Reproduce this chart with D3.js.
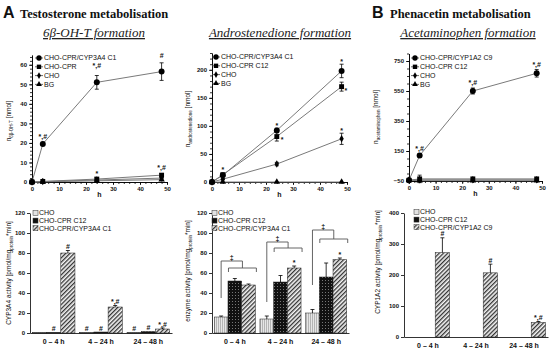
<!DOCTYPE html>
<html>
<head>
<meta charset="utf-8">
<script src="https://cdnjs.cloudflare.com/ajax/libs/d3/7.8.5/d3.min.js"></script>
<style>
body { margin: 0; background: #fff; }
svg text { font-family: "Liberation Sans", Arial, sans-serif; fill: #111; }
.axis text { font-size: 6px; font-weight: bold; }
.axis path, .axis line { stroke: #000; stroke-width: 0.8; }
.legend { font-size: 7px; }
.note { font-size: 7px; font-weight: bold; text-anchor: middle; }
.ytitle { font-size: 6.5px; }
.cat text { font-size: 7px; font-weight: bold; }
.title { font-family: "Liberation Serif", "Times New Roman", serif; font-weight: bold; font-size: 12.5px; }
.letter { font-size: 16px; font-weight: bold; }
.sub { font-family: "Liberation Serif", "Times New Roman", serif; font-style: italic; font-size: 13px; text-decoration: underline; text-anchor: middle; fill: #222; }
</style>
</head>
<body>
<svg id="fig" width="550" height="353"></svg>
<script>
// sampling times (h) and axis ticks of the time course plots
var hours = [0, 4, 24, 48];
var hourTicks = [0, 10, 20, 30, 40, 50];

// 6beta-OH-T formation [nmol]
var ohtNames = ["CHO-CPR/CYP3A4 C1", "CHO-CPR", "CHO", "BG"];
var ohtCyp = [0, 19.5, 51, 56.5], ohtCypErr = [0, 0.8, 3.5, 4.5];
var ohtCpr = [0, 0.3, 1.5, 3.5], ohtCprErr = [0, 0.2, 0.8, 0.8];
var ohtCho = [0, 0.2, 1.0, 2.0], ohtChoErr = [0, 0.1, 0.4, 0.5];
var ohtBg = [0, 0.1, 0.6, 1.2];
var ohtTicks = [0, 10, 20, 30, 40, 50, 60];
var ohtNotes = [[4, 22, "*,#"], [24, 58.5, "*,#"], [48, 63.5, "#"], [24, 3, "*"], [48, 6, "*,#"]];

// androstenedione formation [nmol]
var andNames = ["CHO-CPR/CYP3A4 C1", "CHO-CPR C12", "CHO", "BG"];
var andCyp = [0, 12, 92, 198], andCypErr = [0, 2, 4, 12];
var andCpr = [0, 13, 81, 170], andCprErr = [0, 2, 8, 8];
var andCho = [0, 5, 32, 77], andChoErr = [0, 1, 3, 10];
var andBg = [0, 0, 0, 0];
var andTicks = [0, 50, 100, 150, 200];
var andNotes = [[4, 18, "*"], [24, 96, "*"], [26, 71, "*"], [48, 210, "*"], [49.6, 159, "*"], [48, 87, "*"], [24, 27, "*"]];

// acetaminophen formation [nmol]
var apNames = ["CHO-CPR/CYP1A2 C9", "CHO-CPR C12", "CHO", "BG"];
var apCyp = [-45, 120, 550, 668], apCypErr = [0, 10, 20, 25];
var apCpr = [-45, -36, -36, -36], apCprErr = [0, 25, 0, 0];
var apCho = [-45, -42, -42, -42];
var apBg = [-45, -48, -48, -48];
var apTicks = [-50, 150, 350, 550, 750];
var apNotes = [[4, 152, "*,#"], [24, 593, "*,#"], [48, 713, "*,#"]];

// activities per incubation period
var periods = ["0 – 4 h", "4 – 24 h", "24 – 48 h"];
var barTicks120 = [0, 20, 40, 60, 80, 100, 120];
var barTicks400 = [0, 100, 200, 300, 400];

// CYP3A4 activity [pmol/mg protein*min]
var cyp3a4Names = ["CHO", "CHO-CPR C12", "CHO-CPR/CYP3A4 C1"];
var cyp3a4Cho = [0.5, 0.5, 0.5];
var cyp3a4Cpr = [0.6, 1.0, 1.5];
var cyp3a4Cyp = [80, 26, 4], cyp3a4CypErr = [2.5, 1.5, 1];
var cyp3a4Notes = [["", "#", "#"], ["#", "#", "#"], ["#", "*,#", "*,#"]];

// enzyme activity (androstenedione) [pmol/mg protein*min]
var enzNames = ["CHO", "CHO-CPR C12", "CHO-CPR/CYP3A4 C1"];
var enzCho = [16, 14, 20], enzChoErr = [1, 3, 3.5];
var enzCpr = [52, 51, 56], enzCprErr = [2.5, 6.5, 14];
var enzCyp = [48, 65, 73.5], enzCypErr = [1, 2, 1.5];
var enzNotes = [["", "", ""], ["", "", ""], ["", "*", "*"]];
var bracketLow = [65, 85, 94], bracketHigh = [72, 91, 103], bracketLeg = [35, 31, 48];

// CYP1A2 activity [pmol/mg protein*min]
var cyp1a2Names = ["CHO", "CHO-CPR C12", "CHO-CPR/CYP1A2 C9"];
var cyp1a2Cho = [0, 0, 0];
var cyp1a2Cpr = [0, 0, 0];
var cyp1a2Cyp = [272, 207, 47], cyp1a2CypErr = [48, 28, 3];
var cyp1a2Notes = [["", "", ""], ["", "", ""], ["#", "#", "*,#"]];

var svg = d3.select("#fig");

// bar fill patterns
var defs = svg.append("defs");
var pCho = defs.append("pattern").attr("id", "pCho").attr("patternUnits", "userSpaceOnUse").attr("width", 2).attr("height", 4);
pCho.append("rect").attr("width", 2).attr("height", 4).attr("fill", "#e6e6e6");
pCho.append("rect").attr("width", 0.8).attr("height", 4).attr("fill", "#a8a8a8");
var pCpr = defs.append("pattern").attr("id", "pCpr").attr("patternUnits", "userSpaceOnUse").attr("width", 3).attr("height", 3);
pCpr.append("rect").attr("width", 3).attr("height", 3).attr("fill", "#111");
pCpr.append("rect").attr("x", 1).attr("y", 1).attr("width", 1).attr("height", 1).attr("fill", "#777");
var pCyp = defs.append("pattern").attr("id", "pCyp").attr("patternUnits", "userSpaceOnUse").attr("width", 3).attr("height", 3).attr("patternTransform", "rotate(45)");
pCyp.append("rect").attr("width", 3).attr("height", 3).attr("fill", "#f4f4f4");
pCyp.append("rect").attr("width", 1.3).attr("height", 3).attr("fill", "#333");

var barFills = ["url(#pCho)", "url(#pCpr)", "url(#pCyp)"];
var swatchFills = ["#e2e2e2", "#111", "url(#pCyp)"];
var symbols = [d3.symbolCircle, d3.symbolSquare, d3.symbolDiamond, d3.symbolTriangle];
var symSize = [28, 24, 16, 18];

function yTitle(x, y, parts) {
  var t = svg.append("text").attr("class", "ytitle").attr("text-anchor", "middle")
      .attr("transform", "translate(" + x + "," + y + ") rotate(-90)");
  parts.forEach(function(p) {
    var s = t.append("tspan").text(p[0]);
    if (p[1]) s.attr("font-size", "4.5px").attr("dy", 1.5);
    else if (t.selectAll("tspan").size() > 1) s.attr("dy", -1.5);
  });
}

function lineChart(o) {
  var x = d3.scaleLinear().domain([0, 50]).range(o.xRange);
  var y = d3.scaleLinear().domain(o.yDomain).range(o.yRange);
  var g = svg.append("g");
  var base = o.yRange[0];

  g.append("g").attr("class", "axis").attr("transform", "translate(0," + base + ")")
    .call(d3.axisBottom(x).tickValues(d3.range(0, 51, 2)).tickSize(2).tickSizeOuter(0).tickFormat(""));
  g.append("g").attr("class", "axis").attr("transform", "translate(0," + base + ")")
    .call(d3.axisBottom(x).tickValues(hourTicks).tickSize(3).tickSizeOuter(0).tickPadding(2));
  g.append("g").attr("class", "axis").attr("transform", "translate(" + o.xRange[0] + ",0)")
    .call(d3.axisLeft(y).ticks(o.minorCount).tickSize(2).tickSizeOuter(0).tickFormat(""));
  g.append("g").attr("class", "axis").attr("transform", "translate(" + o.xRange[0] + ",0)")
    .call(d3.axisLeft(y).tickValues(o.ticks).tickSize(3).tickSizeOuter(0).tickPadding(2));

  g.append("text").attr("x", x(25)).attr("y", base + 15).attr("text-anchor", "middle")
    .attr("font-size", "7px").attr("font-weight", "bold").text("h");

  var line = d3.line().x(function(d) { return x(d[0]); }).y(function(d) { return y(d[1]); });
  var all = o.series.map(function(s) {
    return hours.map(function(h, i) { return [h, s.values[i], s.errors ? s.errors[i] : 0]; });
  });

  all.forEach(function(pts) {
    g.append("path").datum(pts).attr("d", line).attr("fill", "none")
      .attr("stroke", "#7a7a7a").attr("stroke-width", 1);
  });
  all.forEach(function(pts) {
    pts.forEach(function(d) {
      if (!d[2]) return;
      var cx = x(d[0]);
      g.append("line").attr("x1", cx).attr("x2", cx).attr("y1", y(d[1] - d[2])).attr("y2", y(d[1] + d[2])).attr("stroke", "#000").attr("stroke-width", 0.8);
      [d[1] - d[2], d[1] + d[2]].forEach(function(v) {
        g.append("line").attr("x1", cx - 2).attr("x2", cx + 2).attr("y1", y(v)).attr("y2", y(v)).attr("stroke", "#000").attr("stroke-width", 0.8);
      });
    });
  });
  all.forEach(function(pts, si) {
    g.selectAll(null).data(pts).enter().append("path")
      .attr("d", d3.symbol().type(symbols[si]).size(symSize[si]))
      .attr("transform", function(d) { return "translate(" + x(d[0]) + "," + y(d[1]) + ")"; })
      .attr("fill", "#000");
  });

  o.notes.forEach(function(n) {
    g.append("text").attr("class", "note").attr("x", x(n[0])).attr("y", y(n[1])).text(n[2]);
  });

  o.series.forEach(function(s, i) {
    var ly = o.legend[1] + i * 8.8;
    g.append("line").attr("x1", o.legend[0] - 4).attr("x2", o.legend[0] + 4).attr("y1", ly).attr("y2", ly)
      .attr("stroke", "#444").attr("stroke-width", 0.8);
    g.append("path").attr("d", d3.symbol().type(symbols[i]).size(symSize[i] * 0.8)())
      .attr("transform", "translate(" + o.legend[0] + "," + ly + ")").attr("fill", "#000");
    g.append("text").attr("class", "legend").attr("x", o.legend[0] + 5).attr("y", ly).attr("dy", "0.35em").text(s.name);
  });
}

function barChart(o) {
  var x0 = d3.scaleBand().domain(periods).range(o.xRange).paddingInner(0.1).paddingOuter(0.05);
  var x1 = d3.scaleBand().domain([0, 1, 2]).range([0, x0.bandwidth()]);
  var y = d3.scaleLinear().domain(o.yDomain).range(o.yRange);
  var g = svg.append("g");

  o.series.forEach(function(s, si) {
    periods.forEach(function(p, gi) {
      var v = s.values[gi];
      var bx = x0(p) + x1(si);
      var err = s.errors ? s.errors[gi] : 0;
      if (v > 0) {
        g.append("rect").attr("x", bx).attr("y", y(v)).attr("width", x1.bandwidth()).attr("height", y(0) - y(v))
          .attr("fill", barFills[si]).attr("stroke", "#222").attr("stroke-width", 0.5);
      }
      var cx = bx + x1.bandwidth() / 2;
      if (err) {
        g.append("line").attr("x1", cx).attr("x2", cx).attr("y1", y(v)).attr("y2", y(v + err)).attr("stroke", "#000").attr("stroke-width", 0.8);
        g.append("line").attr("x1", cx - 2).attr("x2", cx + 2).attr("y1", y(v + err)).attr("y2", y(v + err)).attr("stroke", "#000").attr("stroke-width", 0.8);
      }
      var txt = o.notes[si][gi];
      if (txt) g.append("text").attr("class", "note").attr("x", cx).attr("y", y(v + err) - 1.5).text(txt);
    });
  });

  if (o.brackets) {
    periods.forEach(function(p, gi) {
      var choX = x0(p) + x1(0) + x1.bandwidth() / 2;
      var lo0 = x0(p) + x1(1) + 0.5, lo1 = x0(p) + x1(2) + x1.bandwidth() + 1;
      var mid = (lo0 + lo1) / 2;
      var yl = y(bracketLow[gi]), yh = y(bracketHigh[gi]);
      g.append("path").attr("d", "M" + choX + "," + y(bracketLeg[gi]) + "V" + yh + "H" + mid + "V" + yl)
        .attr("fill", "none").attr("stroke", "#555").attr("stroke-width", 0.9);
      g.append("path").attr("d", "M" + lo0 + "," + (yl + 4) + "V" + yl + "H" + lo1 + "V" + (yl + 4))
        .attr("fill", "none").attr("stroke", "#555").attr("stroke-width", 0.9);
      g.append("text").attr("class", "note").attr("x", (choX + mid) / 2).attr("y", yh - 1.5).text("‡");
    });
  }

  g.append("g").attr("class", "axis cat").attr("transform", "translate(0," + o.yRange[0] + ")")
    .call(d3.axisBottom(x0).tickSize(0).tickSizeOuter(0).tickPadding(6));
  g.append("g").attr("class", "axis").attr("transform", "translate(" + o.xRange[0] + ",0)")
    .call(d3.axisLeft(y).tickValues(o.ticks).tickSize(3).tickSizeOuter(0).tickPadding(2));

  o.series.forEach(function(s, i) {
    var ly = o.legend[1] + i * 7.6;
    g.append("rect").attr("x", o.legend[0]).attr("y", ly - 2.5).attr("width", 5).attr("height", 5)
      .attr("fill", swatchFills[i]).attr("stroke", "#333").attr("stroke-width", 0.5);
    g.append("text").attr("class", "legend").attr("x", o.legend[0] + 6).attr("y", ly).attr("dy", "0.35em").text(s.name);
  });
}

// headings
svg.append("text").attr("class", "letter").attr("x", 3).attr("y", 18).text("A");
svg.append("text").attr("class", "title").attr("x", 20).attr("y", 17.5).text("Testosterone metabolisation");
svg.append("text").attr("class", "letter").attr("x", 372).attr("y", 18).text("B");
svg.append("text").attr("class", "title").attr("x", 390).attr("y", 17.5).text("Phenacetin metabolisation");
svg.append("text").attr("class", "sub").attr("x", 94).attr("y", 37).text("6β-OH-T formation");
svg.append("text").attr("class", "sub").attr("x", 280).attr("y", 37).text("Androstenedione formation");
svg.append("text").attr("class", "sub").attr("x", 468).attr("y", 37).text("Acetaminophen formation");

lineChart({
  xRange: [32, 167], yDomain: [0, 65], yRange: [182, 55], ticks: ohtTicks, minorCount: 30,
  legend: [39, 58], notes: ohtNotes,
  series: [
    {name: ohtNames[0], values: ohtCyp, errors: ohtCypErr},
    {name: ohtNames[1], values: ohtCpr, errors: ohtCprErr},
    {name: ohtNames[2], values: ohtCho, errors: ohtChoErr},
    {name: ohtNames[3], values: ohtBg}
  ]
});
lineChart({
  xRange: [212, 347], yDomain: [0, 230], yRange: [182, 53], ticks: andTicks, minorCount: 25,
  legend: [216, 57], notes: andNotes,
  series: [
    {name: andNames[0], values: andCyp, errors: andCypErr},
    {name: andNames[1], values: andCpr, errors: andCprErr},
    {name: andNames[2], values: andCho, errors: andChoErr},
    {name: andNames[3], values: andBg}
  ]
});
lineChart({
  xRange: [409, 542], yDomain: [-50, 800], yRange: [181, 53.5], ticks: apTicks, minorCount: 20,
  legend: [415, 58], notes: apNotes,
  series: [
    {name: apNames[0], values: apCyp, errors: apCypErr},
    {name: apNames[1], values: apCpr, errors: apCprErr},
    {name: apNames[2], values: apCho},
    {name: apNames[3], values: apBg}
  ]
});

barChart({
  xRange: [30, 172], yDomain: [0, 120], yRange: [333, 213], ticks: barTicks120,
  legend: [33, 213], notes: cyp3a4Notes,
  series: [
    {name: cyp3a4Names[0], values: cyp3a4Cho},
    {name: cyp3a4Names[1], values: cyp3a4Cpr},
    {name: cyp3a4Names[2], values: cyp3a4Cyp, errors: cyp3a4CypErr}
  ]
});
barChart({
  xRange: [212, 349], yDomain: [0, 120], yRange: [333, 213], ticks: barTicks120,
  legend: [212, 213], notes: enzNotes, brackets: true,
  series: [
    {name: enzNames[0], values: enzCho, errors: enzChoErr},
    {name: enzNames[1], values: enzCpr, errors: enzCprErr},
    {name: enzNames[2], values: enzCyp, errors: enzCypErr}
  ]
});
barChart({
  xRange: [404, 548], yDomain: [0, 400], yRange: [337, 213], ticks: barTicks400,
  legend: [414, 212], notes: cyp1a2Notes,
  series: [
    {name: cyp1a2Names[0], values: cyp1a2Cho},
    {name: cyp1a2Names[1], values: cyp1a2Cpr},
    {name: cyp1a2Names[2], values: cyp1a2Cyp, errors: cyp1a2CypErr}
  ]
});

yTitle(11, 121, [["n"], ["6β-OH-T", true], [" [nmol]"]]);
yTitle(190, 119, [["n"], ["androstenedione", true], [" [nmol]"]]);
yTitle(378, 117, [["n"], ["acetaminophen", true], [" [nmol]"]]);
yTitle(11, 273, [["CYP3A4 activity [pmol/mg"], ["protein", true], ["*min]"]]);
yTitle(190, 271, [["enzyme activity [pmol/mg"], ["protein", true], ["*min]"]]);
yTitle(380, 262, [["CYP1A2 activity [pmol/mg"], ["protein", true], ["*min]"]]);
</script>
</body>
</html>
